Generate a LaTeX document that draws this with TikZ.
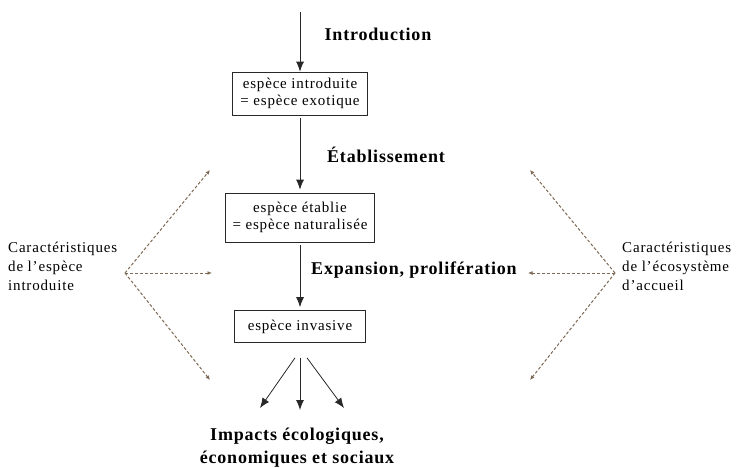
\documentclass[tikz,border=0pt]{standalone}
\usepackage{fontspec}
\setmainfont{Liberation Serif}
\newfontfamily\plainwide{Liberation Serif}[LetterSpace=5.5]
\newfontfamily\boldwide{Liberation Serif}[LetterSpace=4.5]
\usetikzlibrary{arrows.meta,calc}
\definecolor{dashcol}{RGB}{125,105,85}
\definecolor{inkcol}{RGB}{40,40,40}
\begin{document}
\begin{tikzpicture}[x=1pt,y=-1pt,
  box/.style={draw=inkcol,line width=0.7pt,inner sep=0pt,align=center,font=\plainwide\fontsize{15}{17}\selectfont},
  stage/.style={inner sep=0pt,font=\boldwide\fontsize{18}{20}\selectfont\bfseries},
  side/.style={inner sep=0pt,align=left,font=\plainwide\fontsize{15}{19}\selectfont},
  flow/.style={draw=inkcol,line width=0.8pt,-{Latex[length=10pt,width=8pt]}},
  infl/.style={draw=dashcol,line width=1pt,dash pattern=on 3pt off 2pt,-{Latex[length=4.5pt,width=4pt]}}]
\useasboundingbox (0,0) rectangle (741,468);
% boxes
\node[box,minimum width=135pt,minimum height=43pt] (b1) at (300,93.5) {espèce introduite\\= espèce exotique};
\node[box,minimum width=149pt,minimum height=49pt] (b2) at (300,217.5) {espèce établie\\= espèce naturalisée};
\node[box,minimum width=131pt,minimum height=32pt] (b3) at (300,326.5) {espèce invasive};
% stage labels
\node[stage] (lintro) at (378,34) {Introduction};
\node[stage] (letab) at (386,155) {Établissement};
\node[stage] (lexp) at (414,270) {Expansion, prolifération};
\node[stage,align=center,font=\boldwide\fontsize{18}{23}\selectfont\bfseries] (impacts) at (297,448) {Impacts écologiques,\\économiques et sociaux};
% main flow
\coordinate (top) at (300,12);
\draw[flow] (top) -- (b1.north);
\draw[flow] ($(b1.south)+(0,3)$) -- ($(b2.north)+(0,-3)$);
\draw[flow] ($(b2.south)+(0,3)$) -- ($(b3.north)+(0,-3)$);
\coordinate (ia) at (260,408);
\coordinate (ib) at (300,410);
\coordinate (ic) at (344,408);
\draw[flow] ($(b3.south)+(-5,15)$) -- (ia);
\draw[flow] ($(b3.south)+(0,15)$) -- (ib);
\draw[flow] ($(b3.south)+(7,15)$) -- (ic);
% side labels
\node[side,anchor=west] (lsp) at (8,266) {Caractéristiques\\de l’espèce\\introduite};
\node[side,anchor=west] (leco) at (622,266) {Caractéristiques\\de l’écosystème\\d’accueil};
\coordinate (lo) at (125,273);
\coordinate (lu) at (210,170);
\coordinate (lm) at (212,273);
\coordinate (ld) at (210,380);
\draw[infl] (lo) -- (lu);
\draw[infl] (lo) -- (lm);
\draw[infl] (lo) -- (ld);
\coordinate (ro) at (615,273);
\coordinate (ru) at (530,170);
\coordinate (rm) at (528,273);
\coordinate (rd) at (530,380);
\draw[infl] (ro) -- (ru);
\draw[infl] (ro) -- (rm);
\draw[infl] (ro) -- (rd);
\end{tikzpicture}
\end{document}
